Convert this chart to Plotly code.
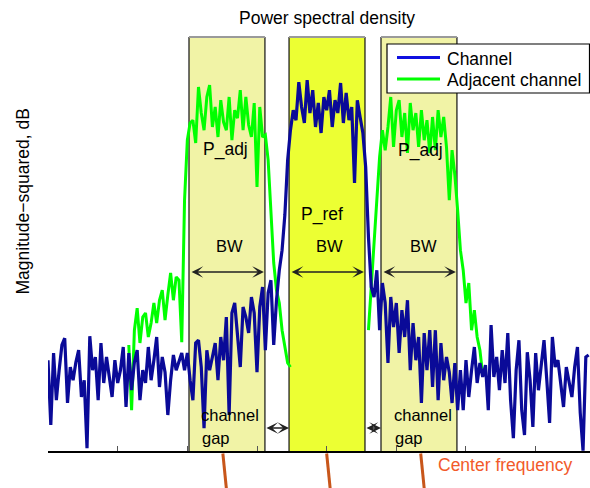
import numpy as np
import plotly.graph_objects as go

# ---- data ---------------------------------------------------------------
# Frequency grid, MHz offset from the reference channel centre
F_START = -40.0
F_STEP = 0.4

# PSD of the main channel, dB
channel_db = [
    -80.8, -97, -79, -90.8, -83.3, -77, -75.3, -91.5, -82.5, -85.8,
    -81.3, -78.3, -90, -85.8, -102.8, -74.8, -83.3, -80, -90.8, -76.5,
    -86.5, -80, -85, -90, -80.8, -86.5, -83.3, -77.5, -92.5, -79,
    -88.3, -81.3, -78.3, -90.8, -83.3, -86.5, -77.5, -85.8, -80.8, -75,
    -87.5, -80, -83.8, -94.5, -85.8, -79.5, -83.3, -81.3, -79, -83.3,
    -79, -85.8, -90.8, -76.5, -75.8, -82.5, -97.8, -78.3, -83.3, -80,
    -76.5, -85.8, -75, -80.8, -70, -94.5, -69, -66.5, -75.8, -82.5,
    -67.5, -70, -74, -65, -69, -83.8, -67.5, -62.5, -78.3, -64,
    -60.8, -77, -65.8, -58.3, -53.3, -44.5, -30.8, -23.3, -18.3, -20.8,
    -11.3, -17.5, -21.5, -10.8, -19, -13.3, -22.5, -16.5, -24, -15,
    -18.3, -13.3, -22.5, -15.8, -19, -11.5, -21.5, -14, -20.8, -17.5,
    -36.5, -15.8, -20, -24, -32.5, -50, -62.5, -65, -58.3, -73.3,
    -61.5, -66.5, -81.5, -65, -72.5, -66.5, -79, -68.3, -75, -65.8,
    -83.3, -71.5, -80.8, -75, -91.5, -74, -83.3, -73.3, -87.5, -73.3,
    -90.8, -76.5, -85.8, -80, -83.8, -91.5, -81.5, -93.3, -83.3, -93.3,
    -80.8, -90, -83.3, -77.5, -86.5, -81.5, -85, -82, -93.3, -72,
    -85, -80, -88.3, -78.3, -86.5, -74, -90.8, -100.3, -83.3, -75.8,
    -93.3, -99.5, -78.8, -85.8, -97.5, -79, -88.3, -82, -75.8, -85.8,
    -96.5, -75, -82.5, -80.8, -87.5, -92.5, -82.5, -85.8, -90, -82.5,
    -77.5, -94, -103.4, -80, -79.5,
]

# PSD of the adjacent channels (lower and upper), dB, on the same grid
ADJ_LOWER_FIRST_BIN = 29
adj_lower_db = [
    -77, -93.3, -73.3, -67.8, -76.5, -70, -69, -75, -71.5, -66.5,
    -71.5, -65.8, -63.3, -70.8, -64.5, -59, -65.8, -60, -60.8, -76.3,
    -40.8, -25.8, -21.5, -20.8, -26.5, -12.5, -19, -23.3, -15, -12,
    -22.5, -17.5, -25, -15.8, -21.3, -23.3, -15, -25.8, -18.3, -20.3,
    -13.3, -23.3, -15, -22, -25, -16.5, -37.5, -17.5, -25, -24.5,
    -30.8, -43.3, -56.5, -63.3, -66.5, -73.3, -77.5, -81.5, -82.5,
]
ADJ_UPPER_FIRST_BIN = 115
adj_upper_db = [
    -73.3, -63.3, -53.3, -40.8, -30, -23.3, -28.3, -22.5, -15, -27.5,
    -18.3, -15.8, -25, -19, -29, -16.5, -23.3, -19, -27.5, -18.3,
    -25.8, -20.8, -29, -20, -28.3, -18.3, -25, -20, -27.5, -40.8,
    -28.3, -34.5, -43.3, -53.3, -58.3, -66.5, -61.5, -73.3, -68.3, -75,
    -78.3, -84.5,
]

# Measurement bands: left edges and common width (MHz)
band_left = [-19.76, -5.40, 7.80]
band_width = 10.9
band_names = ["P_adj", "P_ref", "P_adj"]
center_freqs = [-14.9, 0.0, 13.5]

# ---- styling -------------------------------------------------------------
FONT = "Liberation Sans"
FS = 17.5
BLUE = "#0a0a98"
BLUE_KEY = "#1010e0"
GREEN = "#00ff00"
ADJ_FILL = "#f1f3a6"
REF_FILL = "#ecff33"
ORANGE_LINE = "#c8561a"
ORANGE_TEXT = "#f25a2a"
X_RANGE = [-40.0, 37.8]
Y_RANGE = [-103.5, 0.0]

freq = F_START + F_STEP * np.arange(len(channel_db))
f_lower = F_START + F_STEP * np.arange(ADJ_LOWER_FIRST_BIN, ADJ_LOWER_FIRST_BIN + len(adj_lower_db))
f_upper = F_START + F_STEP * np.arange(ADJ_UPPER_FIRST_BIN, ADJ_UPPER_FIRST_BIN + len(adj_upper_db))

adj_x = list(f_lower) + [None] + list(f_upper)
adj_y = list(adj_lower_db) + [None] + list(adj_upper_db)

fig = go.Figure()
fig.add_trace(go.Scatter(x=adj_x, y=adj_y, mode="lines", name="Adjacent channel",
                         line=dict(color=GREEN, width=3), connectgaps=False,
                         showlegend=False, hoverinfo="skip"))
fig.add_trace(go.Scatter(x=freq, y=channel_db, mode="lines", name="Channel",
                         line=dict(color=BLUE, width=3.2),
                         showlegend=False, hoverinfo="skip"))

shapes = []
for i, x0 in enumerate(band_left):
    x1 = x0 + band_width
    fill = REF_FILL if band_names[i] == "P_ref" else ADJ_FILL
    shapes.append(dict(type="rect", xref="x", yref="paper", x0=x0, x1=x1, y0=0, y1=1,
                       fillcolor=fill, line=dict(width=0), layer="below"))
    for xe in (x0, x1):
        shapes.append(dict(type="line", xref="x", yref="paper", x0=xe, x1=xe, y0=0, y1=1,
                           line=dict(color="#111111", width=1.2), layer="below"))
    shapes.append(dict(type="line", xref="x", yref="paper", x0=x0, x1=x1, y0=1, y1=1,
                       line=dict(color="#9a9a9a", width=2), layer="below"))

# centre-frequency markers below the axis
for cf in center_freqs:
    shapes.append(dict(type="line", xref="x", yref="paper", x0=cf, x1=cf + 0.5,
                       y0=-0.006, y1=-0.09, line=dict(color=ORANGE_LINE, width=3)))

# legend box
def px_x(p):
    return (p - 48) / 542.0

def px_y(p):
    return (451 - p) / 414.0

shapes.append(dict(type="rect", xref="paper", yref="paper", x0=px_x(387), x1=px_x(589.5),
                   y0=px_y(93), y1=px_y(44), fillcolor="white",
                   line=dict(color="black", width=1.2), layer="above"))
shapes.append(dict(type="line", xref="paper", yref="paper", x0=px_x(397), x1=px_x(440),
                   y0=px_y(57.5), y1=px_y(57.5), line=dict(color=BLUE_KEY, width=3), layer="above"))
shapes.append(dict(type="line", xref="paper", yref="paper", x0=px_x(397), x1=px_x(440),
                   y0=px_y(79), y1=px_y(79), line=dict(color=GREEN, width=3), layer="above"))

annotations = []

def label(text, x, y, xref="x", yref="y", xanchor="center", color="black", size=FS, angle=0):
    annotations.append(dict(text=text, x=x, y=y, xref=xref, yref=yref, xanchor=xanchor,
                            yanchor="middle", showarrow=False, textangle=angle,
                            font=dict(family=FONT, size=size, color=color)))

def double_arrow(xa, xb, y):
    annotations.append(dict(text="", x=xb, y=y, ax=xa, ay=y, xref="x", yref="y",
                            axref="x", ayref="y", showarrow=True, arrowside="end+start",
                            arrowhead=3, startarrowhead=3, arrowsize=1.3, startarrowsize=1.3,
                            arrowwidth=1.5, arrowcolor="#222222", standoff=0, startstandoff=0))

label("Power spectral density", px_x(326.5), px_y(18), xref="paper", yref="paper")
label("Magnitude\u2212squared, dB", px_x(22.5), px_y(202), xref="paper", yref="paper", angle=-90)
label("Center frequency", px_x(436), px_y(465), xref="paper", yref="paper",
      xanchor="left", color=ORANGE_TEXT)
label("Channel", px_x(445), px_y(58.5), xref="paper", yref="paper", xanchor="left")
label("Adjacent channel", px_x(445), px_y(79.5), xref="paper", yref="paper", xanchor="left")

# band labels
label("P_adj", -14.59, -28.1)
label("P_ref", -0.60, -44.4)
label("P_adj", 13.40, -28.25)
for i, x0 in enumerate(band_left):
    mid = x0 + band_width / 2
    label("BW", mid + (0.4 if i != 2 else 0.6), -52.25, size=16.5)
    double_arrow(x0 + 0.15, x0 + band_width - 0.15, -58.75)

# channel gaps
double_arrow(band_left[0] + band_width, band_left[1], -97.75)
double_arrow(band_left[1] + band_width, band_left[2], -97.75)
for xg in (-18.33, 9.38):
    label("channel", xg, -94.6, xanchor="left", size=16.5)
    label("gap", xg + 0.1, -100.2, xanchor="left", size=16.5)

fig.update_layout(
    width=590, height=488,
    margin=dict(l=48, r=0, t=37, b=37),
    paper_bgcolor="white", plot_bgcolor="white",
    font=dict(family=FONT, size=FS, color="black"),
    shapes=shapes, annotations=annotations,
    xaxis=dict(range=X_RANGE, showgrid=False, zeroline=False, showline=True,
               linecolor="black", linewidth=2, ticks="inside", ticklen=5,
               tickcolor="#555555", tickwidth=1,
               tickvals=[-30, -20, -10, 0, 10, 20, 30], showticklabels=False),
    yaxis=dict(range=Y_RANGE, showgrid=False, zeroline=False, showline=False,
               ticks="", showticklabels=False),
    showlegend=False,
)

fig.write_html("out.html")
